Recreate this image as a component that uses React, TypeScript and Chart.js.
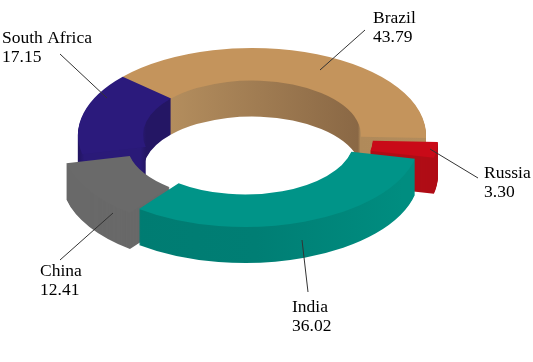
import React, { useEffect, useRef } from "react";
import { Chart, registerables } from "chart.js";

Chart.register(...registerables);

const categories = ["Brazil", "Russia", "India", "China", "South Africa"];
const values = [43.79, 3.3, 36.02, 12.41, 17.15];
const topColors = ["#c4945c", "#c90a18", "#009488", "#6a6a6a", "#2b1a7c"];

const W = 533;
const H = 362;
const CX = 252;
const CY = 135;
const SQUASH = 0.5;
const DEPTH = 36;
const PAINT_ORDER = [0, 4, 1, 3, 2];
const EXPLODE_X = [0, 12, -7, -16, 0];
const EXPLODE_Y = [0, 4, 5, 9, 0];

const labelPlace: Record<string, { x: number; y: number; line: number[] }> = {
  Brazil: { x: 373, y: 23, line: [365, 30, 320, 70] },
  Russia: { x: 484, y: 178, line: [430, 149, 478, 178] },
  India: { x: 292, y: 312, line: [302, 240, 308, 292] },
  China: { x: 40, y: 276, line: [60, 260, 113, 213] },
  "South Africa": { x: 2, y: 43, line: [60, 54, 107, 98] },
};

function wallPaint(ctx: CanvasRenderingContext2D, i: number) {
  const mk = (x0: number, x1: number, list: Array<[number, string]>) => {
    const g = ctx.createLinearGradient(x0, 0, x1, 0);
    list.forEach(([p, c]) => g.addColorStop(p, c));
    return g;
  };
  if (i === 0)
    return mk(167, 425, [
      [0, "#b48e5e"],
      [0.74, "#8a6845"],
      [0.75, "#b08a5a"],
      [1, "#b38c5c"],
    ]);
  if (i === 1) return "#b00d16";
  if (i === 2)
    return mk(142, 410, [
      [0, "#007c72"],
      [0.45, "#007e74"],
      [1, "#008d80"],
    ]);
  if (i === 3) return "#696969";
  return mk(78, 170, [
    [0, "#211460"],
    [0.07, "#2a1a78"],
    [0.68, "#2a1a78"],
    [0.74, "#241664"],
    [1, "#241664"],
  ]);
}

const ring3d = {
  id: "ring3d",
  beforeDatasetDraw(chart: any, args: any) {
    const ctx: CanvasRenderingContext2D = chart.ctx;
    const meta = args.meta;
    PAINT_ORDER.forEach((i) => {
      const el = meta.data[i];
      const saved = el.options;
      const wall = wallPaint(ctx, i);
      for (let dz = DEPTH; dz >= 0; dz--) {
        el.options = Object.assign({}, saved, {
          backgroundColor: dz === 0 ? topColors[i] : wall,
          borderWidth: 0,
        });
        ctx.save();
        ctx.translate(EXPLODE_X[i], CY + dz + EXPLODE_Y[i]);
        ctx.scale(1, SQUASH);
        ctx.translate(0, -el.y);
        el.draw(ctx);
        ctx.restore();
      }
      el.options = saved;
    });
    return false;
  },
  afterDraw(chart: any) {
    const ctx: CanvasRenderingContext2D = chart.ctx;
    ctx.save();
    ctx.strokeStyle = "#333333";
    ctx.lineWidth = 1;
    ctx.fillStyle = "#000000";
    ctx.font = '17.5px "Liberation Serif"';
    ctx.textAlign = "left";
    ctx.textBaseline = "alphabetic";
    categories.forEach((name, i) => {
      const p = labelPlace[name];
      ctx.beginPath();
      ctx.moveTo(p.line[0], p.line[1]);
      ctx.lineTo(p.line[2], p.line[3]);
      ctx.stroke();
      ctx.fillText(name, p.x, p.y);
      ctx.fillText(values[i].toFixed(2), p.x, p.y + 19);
    });
    ctx.restore();
  },
};

export default function App() {
  const ref = useRef<HTMLCanvasElement>(null);
  useEffect(() => {
    const chart = new Chart(ref.current!, {
      type: "doughnut",
      data: {
        labels: categories,
        datasets: [
          {
            data: values,
            backgroundColor: topColors,
            borderWidth: 0,
          },
        ],
      },
      options: {
        responsive: false,
        animation: false,
        rotation: -48,
        radius: 174,
        cutout: "62.6%",
        layout: { padding: { right: W - 2 * CX } },
        plugins: { legend: { display: false }, tooltip: { enabled: false } },
      },
      plugins: [ring3d],
    } as any);
    return () => chart.destroy();
  }, []);
  return (
    <div style={{ position: "fixed", left: 0, top: 0, width: W, height: H, background: "#fff" }}>
      <canvas ref={ref} width={W} height={H} style={{ display: "block" }} />
    </div>
  );
}
